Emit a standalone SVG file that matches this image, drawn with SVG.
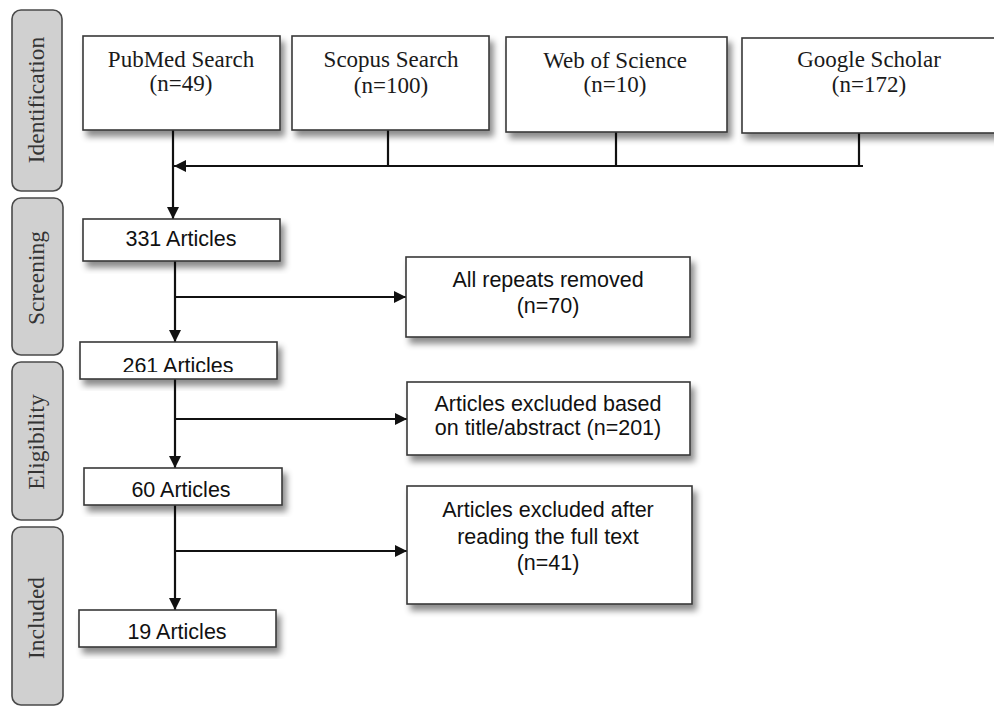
<svg xmlns="http://www.w3.org/2000/svg" width="994" height="707" viewBox="0 0 994 707">
<style>
.phase{fill:#d0d0d0;stroke:#4a4a4a;stroke-width:1.6}
.phase-t{font-family:"Liberation Serif",serif;font-size:23.5px;fill:#333;text-anchor:middle}
.box{fill:#fff;stroke:#3a3a3a;stroke-width:1.6;filter:url(#sh)}
.serif{font-family:"Liberation Serif",serif;font-size:23px;fill:#1a1a1a;text-anchor:middle}
.sans{font-family:"Liberation Sans",Arial,sans-serif;font-size:21.5px;fill:#111;text-anchor:middle}
.ln{fill:none;stroke:#111;stroke-width:2.2}
</style>
<defs>
<filter id="sh" x="-10%" y="-20%" width="130%" height="150%">
<feDropShadow dx="4" dy="6" stdDeviation="3" flood-color="#000" flood-opacity="0.45"/>
</filter>
<marker id="ah" viewBox="0 0 12 12" refX="12" refY="6" markerWidth="12" markerHeight="12" markerUnits="userSpaceOnUse" orient="auto">
<path d="M0,0 L12,6 L0,12 Z" fill="#111"/>
</marker>
<clipPath id="clip261"><rect x="80" y="342" width="200" height="30"/></clipPath>
</defs>
<rect width="994" height="707" fill="#fff"/>

<g id="phase-identification">
<rect class="phase" x="12" y="10" width="50" height="181" rx="9"/>
<text class="phase-t" transform="translate(37,100) rotate(-90)" y="7">Identification</text>
</g>
<g id="phase-screening">
<rect class="phase" x="12" y="198" width="51" height="157" rx="9"/>
<text class="phase-t" transform="translate(37,278) rotate(-90)" y="7">Screening</text>
</g>
<g id="phase-eligibility">
<rect class="phase" x="12" y="362" width="51" height="158" rx="9"/>
<text class="phase-t" transform="translate(37,442) rotate(-90)" y="7">Eligibility</text>
</g>
<g id="phase-included">
<rect class="phase" x="12" y="527" width="51" height="178" rx="9"/>
<text class="phase-t" transform="translate(37,618) rotate(-90)" y="7">Included</text>
</g>

<g id="connectors">
<line class="ln" x1="173" y1="130" x2="173" y2="219" marker-end="url(#ah)"/>
<line class="ln" x1="388" y1="130" x2="388" y2="166"/>
<line class="ln" x1="616" y1="132" x2="616" y2="166"/>
<line class="ln" x1="859" y1="133" x2="859" y2="166"/>
<line class="ln" x1="863" y1="166" x2="174" y2="166" marker-end="url(#ah)"/>
<line class="ln" x1="175" y1="261" x2="175" y2="342" marker-end="url(#ah)"/>
<line class="ln" x1="175" y1="297" x2="406" y2="297" marker-end="url(#ah)"/>
<line class="ln" x1="175" y1="379" x2="175" y2="468" marker-end="url(#ah)"/>
<line class="ln" x1="175" y1="419" x2="407" y2="419" marker-end="url(#ah)"/>
<line class="ln" x1="175" y1="505" x2="175" y2="610" marker-end="url(#ah)"/>
<line class="ln" x1="175" y1="551" x2="407" y2="551" marker-end="url(#ah)"/>
</g>

<g id="pubmed">
<rect class="box" x="83" y="36" width="197" height="94"/>
<text class="serif" x="181" y="67">PubMed Search</text>
<text class="serif" x="181" y="91">(n=49)</text>
</g>
<g id="scopus">
<rect class="box" x="292" y="36" width="197" height="94"/>
<text class="serif" x="391" y="67">Scopus Search</text>
<text class="serif" x="391" y="93">(n=100)</text>
</g>
<g id="wos">
<rect class="box" x="506" y="37" width="221" height="95"/>
<text class="serif" x="615" y="68">Web of Science</text>
<text class="serif" x="615" y="92">(n=10)</text>
</g>
<g id="scholar">
<rect class="box" x="742" y="38" width="262" height="95"/>
<text class="serif" x="869" y="67">Google Scholar</text>
<text class="serif" x="869" y="92">(n=172)</text>
</g>

<g id="a331">
<rect class="box" x="83" y="219" width="197" height="42"/>
<text class="sans" x="181" y="246">331 Articles</text>
</g>
<g id="repeats">
<rect class="box" x="406" y="257" width="284" height="80"/>
<text class="sans" x="548" y="287">All repeats removed</text>
<text class="sans" x="548" y="313">(n=70)</text>
</g>
<g id="a261">
<rect class="box" x="80" y="342" width="197" height="37"/>
<text class="sans" x="178" y="373" clip-path="url(#clip261)">261 Articles</text>
</g>
<g id="excluded-title">
<rect class="box" x="407" y="382" width="283" height="73"/>
<text class="sans" x="548" y="411">Articles excluded based</text>
<text class="sans" x="548" y="435">on title/abstract (n=201)</text>
</g>
<g id="a60">
<rect class="box" x="84" y="468" width="198" height="37"/>
<text class="sans" x="181" y="497">60 Articles</text>
</g>
<g id="excluded-full">
<rect class="box" x="407" y="486" width="285" height="118"/>
<text class="sans" x="548" y="517">Articles excluded after</text>
<text class="sans" x="548" y="544">reading the full text</text>
<text class="sans" x="548" y="570">(n=41)</text>
</g>
<g id="a19">
<rect class="box" x="79" y="610" width="197" height="37"/>
<text class="sans" x="177" y="639">19 Articles</text>
</g>
</svg>
